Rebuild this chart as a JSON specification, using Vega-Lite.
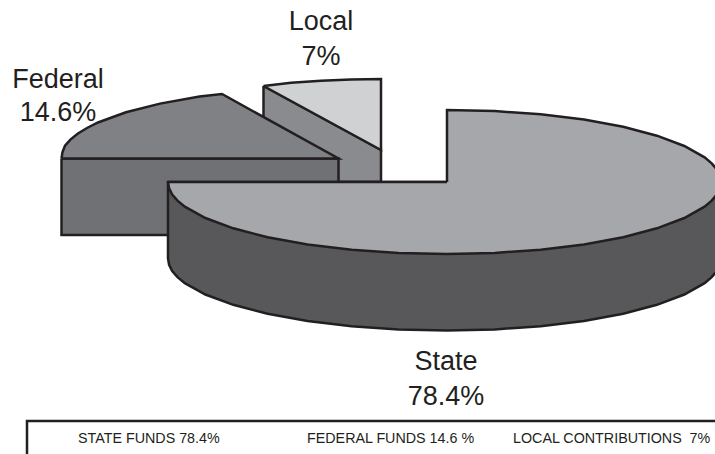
{"$schema":"https://vega.github.io/schema/vega-lite/v6.json","width":715,"height":454,"padding":0,"autosize":{"type":"none"},"background":"white","view":{"stroke":null},
"encoding":{"x":{"field":"x","type":"quantitative","scale":{"domain":[0,715],"nice":false,"zero":false},"axis":null},"y":{"field":"y","type":"quantitative","scale":{"domain":[454,0],"nice":false,"zero":false},"axis":null}},
"datasets":{"outline":[
{"part":"Local side","seq":1,"x":263.5,"y":86},{"part":"Local side","seq":2,"x":263.5,"y":182},{"part":"Local side","seq":3,"x":381,"y":182},{"part":"Local side","seq":4,"x":381,"y":150},{"part":"Local side","seq":5,"x":263.5,"y":86},
{"part":"Local top","seq":1,"x":263.5,"y":86},{"part":"Local top","seq":2,"x":291,"y":82.8},{"part":"Local top","seq":3,"x":321,"y":80.7},{"part":"Local top","seq":4,"x":351,"y":79.4},{"part":"Local top","seq":5,"x":381,"y":79},{"part":"Local top","seq":6,"x":381,"y":150},{"part":"Local top","seq":7,"x":263.5,"y":86},
{"part":"Federal side","seq":1,"x":61.5,"y":158.5},{"part":"Federal side","seq":2,"x":61.5,"y":235},{"part":"Federal side","seq":3,"x":338.5,"y":235},{"part":"Federal side","seq":4,"x":338.5,"y":158.5},{"part":"Federal side","seq":5,"x":61.5,"y":158.5},
{"part":"Federal top","seq":1,"x":61.5,"y":158.5},{"part":"Federal top","seq":2,"x":62.5,"y":152},{"part":"Federal top","seq":3,"x":65,"y":145.7},{"part":"Federal top","seq":4,"x":70.4,"y":139.6},{"part":"Federal top","seq":5,"x":77.6,"y":133.7},{"part":"Federal top","seq":6,"x":87,"y":128},{"part":"Federal top","seq":7,"x":98,"y":122.5},{"part":"Federal top","seq":8,"x":126,"y":112.3},{"part":"Federal top","seq":9,"x":160,"y":103.6},{"part":"Federal top","seq":10,"x":199.5,"y":96.5},{"part":"Federal top","seq":11,"x":222,"y":94},{"part":"Federal top","seq":12,"x":338.5,"y":158.5},{"part":"Federal top","seq":13,"x":61.5,"y":158.5},
{"part":"State side","seq":1,"x":168,"y":182},{"part":"State side","seq":2,"x":168,"y":258.5},{"part":"State side","seq":3,"x":169.1,"y":264.8},{"part":"State side","seq":4,"x":172.2,"y":271},{"part":"State side","seq":5,"x":177.5,"y":277.1},{"part":"State side","seq":6,"x":184.8,"y":283.1},{"part":"State side","seq":7,"x":205.4,"y":294.5},{"part":"State side","seq":8,"x":233.3,"y":304.8},{"part":"State side","seq":9,"x":267.6,"y":313.7},{"part":"State side","seq":10,"x":307.5,"y":320.9},{"part":"State side","seq":11,"x":351.6,"y":326.2},{"part":"State side","seq":12,"x":398.5,"y":329.4},{"part":"State side","seq":13,"x":447,"y":330.5},{"part":"State side","seq":14,"x":494.7,"y":329.4},{"part":"State side","seq":15,"x":540.7,"y":326.2},{"part":"State side","seq":16,"x":584,"y":320.9},{"part":"State side","seq":17,"x":623.2,"y":313.7},{"part":"State side","seq":18,"x":656.9,"y":304.8},{"part":"State side","seq":19,"x":684.3,"y":294.5},{"part":"State side","seq":20,"x":704.6,"y":283.1},{"part":"State side","seq":21,"x":711.7,"y":277.1},{"part":"State side","seq":22,"x":716.9,"y":271},{"part":"State side","seq":23,"x":719.9,"y":264.8},{"part":"State side","seq":24,"x":721,"y":258.5},{"part":"State side","seq":25,"x":721,"y":182},{"part":"State side","seq":26,"x":168,"y":182},
{"part":"State top","seq":1,"x":447,"y":182},{"part":"State top","seq":2,"x":447,"y":110},{"part":"State top","seq":3,"x":494.7,"y":111.1},{"part":"State top","seq":4,"x":540.7,"y":114.3},{"part":"State top","seq":5,"x":584,"y":119.6},{"part":"State top","seq":6,"x":623.2,"y":126.8},{"part":"State top","seq":7,"x":656.9,"y":135.7},{"part":"State top","seq":8,"x":684.3,"y":146},{"part":"State top","seq":9,"x":704.6,"y":157.4},{"part":"State top","seq":10,"x":711.7,"y":163.4},{"part":"State top","seq":11,"x":716.9,"y":169.5},{"part":"State top","seq":12,"x":719.9,"y":175.7},{"part":"State top","seq":13,"x":721,"y":182},{"part":"State top","seq":14,"x":719.9,"y":188.3},{"part":"State top","seq":15,"x":716.9,"y":194.5},{"part":"State top","seq":16,"x":711.7,"y":200.6},{"part":"State top","seq":17,"x":704.6,"y":206.6},{"part":"State top","seq":18,"x":684.3,"y":218},{"part":"State top","seq":19,"x":656.9,"y":228.3},{"part":"State top","seq":20,"x":623.2,"y":237.2},{"part":"State top","seq":21,"x":584,"y":244.4},{"part":"State top","seq":22,"x":540.7,"y":249.7},{"part":"State top","seq":23,"x":494.7,"y":252.9},{"part":"State top","seq":24,"x":447,"y":254},{"part":"State top","seq":25,"x":398.5,"y":252.9},{"part":"State top","seq":26,"x":351.6,"y":249.7},{"part":"State top","seq":27,"x":307.5,"y":244.4},{"part":"State top","seq":28,"x":267.6,"y":237.2},{"part":"State top","seq":29,"x":233.3,"y":228.3},{"part":"State top","seq":30,"x":205.4,"y":218},{"part":"State top","seq":31,"x":184.8,"y":206.6},{"part":"State top","seq":32,"x":177.5,"y":200.6},{"part":"State top","seq":33,"x":172.2,"y":194.5},{"part":"State top","seq":34,"x":169.1,"y":188.3},{"part":"State top","seq":35,"x":168,"y":182},{"part":"State top","seq":36,"x":447,"y":182}
],
"frame":[{"seq":1,"x":716,"y":421},{"seq":2,"x":27,"y":421},{"seq":3,"x":27,"y":456}],
"big":[{"x":321,"y":22,"label":"Local"},{"x":321,"y":57,"label":"7%"},{"x":58,"y":80,"label":"Federal"},{"x":58,"y":113,"label":"14.6%"},{"x":446,"y":362,"label":"State"},{"x":446,"y":397,"label":"78.4%"}],
"small":[{"x":78,"y":439,"label":"STATE FUNDS 78.4%"},{"x":307,"y":439,"label":"FEDERAL FUNDS 14.6 %"},{"x":513,"y":439,"label":"LOCAL CONTRIBUTIONS \u00a07%"}]},
"layer":[
{"data":{"name":"outline"},"mark":{"type":"line","clip":true,"stroke":"#231f20","strokeWidth":2.5,"strokeJoin":"miter"},
"encoding":{"order":{"field":"seq","type":"quantitative"},
"fill":{"field":"part","type":"nominal","legend":null,"scale":{"domain":["Local side","Local top","Federal side","Federal top","State side","State top"],"range":["#8a8b8e","#d0d1d3","#707174","#808184","#58585a","#a6a7aa"]}}}},
{"data":{"name":"frame"},"mark":{"type":"line","clip":true,"stroke":"#231f20","strokeWidth":2.5,"strokeJoin":"miter"},
"encoding":{"order":{"field":"seq","type":"quantitative"}}},
{"data":{"name":"big"},"mark":{"type":"text","font":"Liberation Sans","fontSize":27,"color":"#231f20","align":"center","baseline":"middle"},
"encoding":{"text":{"field":"label"}}},
{"data":{"name":"small"},"mark":{"type":"text","font":"Liberation Sans","fontSize":14.3,"color":"#231f20","align":"left","baseline":"middle"},
"encoding":{"text":{"field":"label"}}}
]}
